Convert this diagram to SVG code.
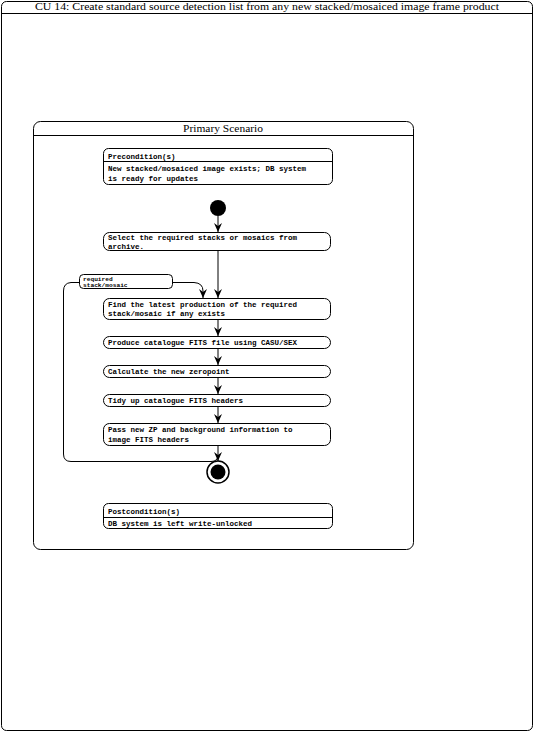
<svg xmlns="http://www.w3.org/2000/svg" width="534" height="733" viewBox="0 0 534 733">
<style>
.frame{fill:#fff;stroke:#000;stroke-width:1}
.box{fill:none;stroke:#000;stroke-width:1}
.ln{fill:none;stroke:#000;stroke-width:1}
.serif{font-family:"Liberation Serif","DejaVu Serif",serif;font-size:10px;fill:#000}
.mono{font-family:"Liberation Mono","DejaVu Sans Mono",monospace;font-size:7.5px;font-weight:bold;fill:#000}
.small{font-family:"Liberation Mono","DejaVu Sans Mono",monospace;font-size:6.2px;font-weight:bold;fill:#000}
</style>
<defs>
<marker id="arr" markerWidth="9" markerHeight="9" refX="9" refY="4.5" orient="auto" markerUnits="userSpaceOnUse" viewBox="0 0 9 9">
<path d="M0,0.5 L9,4.5 L0,8.5 L3,4.5 Z" fill="#000"/>
</marker>
</defs>
<rect width="534" height="733" fill="#fff"/>
<g id="outer">
<rect class="frame" x="1.5" y="1.5" width="531" height="729" rx="5"/>
<line class="ln" x1="1.5" y1="13.5" x2="532.5" y2="13.5"/>
<text class="serif" x="267" y="10" text-anchor="middle" textLength="464" lengthAdjust="spacingAndGlyphs">CU 14: Create standard source detection list from any new stacked/mosaiced image frame product</text>
</g>
<g id="scenario">
<rect class="box" x="33.5" y="121.5" width="380" height="428" rx="7"/>
<line class="ln" x1="33.5" y1="135.5" x2="413.5" y2="135.5"/>
<text class="serif" x="223" y="132" text-anchor="middle" textLength="80" lengthAdjust="spacingAndGlyphs">Primary Scenario</text>
</g>
<g id="precondition">
<rect class="box" x="103.5" y="148.5" width="229" height="36" rx="5"/>
<line class="ln" x1="103.5" y1="161.5" x2="332.5" y2="161.5"/>
<text class="mono" x="108" y="158.5">Precondition(s)</text>
<text class="mono" x="108" y="170.5">New stacked/mosaiced image exists; DB system</text>
<text class="mono" x="108" y="181">is ready for updates</text>
</g>
<g id="start"><circle cx="218" cy="208" r="8" fill="#000"/></g>
<g id="select">
<rect class="box" x="103.5" y="232.5" width="227" height="18" rx="6"/>
<text class="mono" x="108" y="240">Select the required stacks or mosaics from</text>
<text class="mono" x="108" y="248.5">archive.</text>
</g>
<g id="note">
<rect class="box" x="79.5" y="274.5" width="93" height="14" rx="4"/>
<text class="small" x="83" y="281">required</text>
<text class="small" x="83" y="287">stack/mosaic</text>
</g>
<g id="find">
<rect class="box" x="103.5" y="298.5" width="227" height="21" rx="6"/>
<text class="mono" x="108" y="306.5">Find the latest production of the required</text>
<text class="mono" x="108" y="316">stack/mosaic if any exists</text>
</g>
<g id="produce">
<rect class="box" x="103.5" y="336.5" width="227" height="12" rx="6"/>
<text class="mono" x="108" y="345">Produce catalogue FITS file using CASU/SEX</text>
</g>
<g id="calculate">
<rect class="box" x="103.5" y="365.5" width="227" height="12" rx="6"/>
<text class="mono" x="108" y="374">Calculate the new zeropoint</text>
</g>
<g id="tidy">
<rect class="box" x="103.5" y="394.5" width="227" height="12" rx="6"/>
<text class="mono" x="108" y="403">Tidy up catalogue FITS headers</text>
</g>
<g id="pass">
<rect class="box" x="103.5" y="423.5" width="227" height="22" rx="6"/>
<text class="mono" x="108" y="431.5">Pass new ZP and background information to</text>
<text class="mono" x="108" y="441.5">image FITS headers</text>
</g>
<g id="final">
<circle cx="218" cy="472" r="11" fill="#fff" stroke="#000" stroke-width="1.5"/>
<circle cx="218" cy="472" r="7.5" fill="#000"/>
</g>
<g id="postcondition">
<rect class="box" x="103.5" y="503.5" width="229" height="25" rx="5"/>
<line class="ln" x1="103.5" y1="517.5" x2="332.5" y2="517.5"/>
<text class="mono" x="108" y="514">Postcondition(s)</text>
<text class="mono" x="108" y="525.5">DB system is left write-unlocked</text>
</g>
<g id="connectors">
<line class="ln" x1="218" y1="216" x2="218" y2="232" marker-end="url(#arr)"/>
<line class="ln" x1="218" y1="251" x2="218" y2="298" marker-end="url(#arr)"/>
<path class="ln" d="M173,282.5 L194,282.5 Q203,283 203,291 L203,298" marker-end="url(#arr)"/>
<line class="ln" x1="218" y1="320" x2="218" y2="336" marker-end="url(#arr)"/>
<line class="ln" x1="218" y1="349" x2="218" y2="365" marker-end="url(#arr)"/>
<line class="ln" x1="218" y1="378" x2="218" y2="394" marker-end="url(#arr)"/>
<line class="ln" x1="218" y1="407" x2="218" y2="423" marker-end="url(#arr)"/>
<line class="ln" x1="218" y1="446" x2="218" y2="461" marker-end="url(#arr)"/>
<path class="ln" d="M79.5,282.5 L71,282.5 Q63.5,283 63.5,291 L63.5,454 Q63.5,461.5 71,461.5 L211,461.5 Q218,461.5 218,455"/>
</g>
</svg>
